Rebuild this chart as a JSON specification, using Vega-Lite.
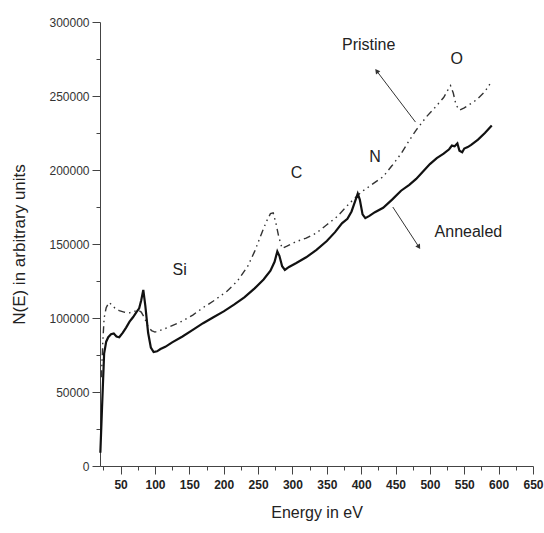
{
  "$schema": "https://vega.github.io/schema/vega-lite/v6.json",
  "autosize": "none",
  "width": 433,
  "height": 444,
  "padding": {"left": 100, "top": 22, "right": 11, "bottom": 67},
  "background": "white",
  "config": {"view": {"stroke": null}, "font": "Liberation Sans"},
  "datasets": {
    "annealed": [
      {"e": 20.5, "n": 9000}, {"e": 23, "n": 40000}, {"e": 26, "n": 76000}, {"e": 29, "n": 84000},
      {"e": 32, "n": 87000}, {"e": 36, "n": 89000}, {"e": 40, "n": 89500}, {"e": 44, "n": 87500},
      {"e": 48, "n": 87000}, {"e": 53, "n": 90000}, {"e": 58, "n": 93500}, {"e": 63, "n": 97500},
      {"e": 68, "n": 100500}, {"e": 73, "n": 104000}, {"e": 77, "n": 106500}, {"e": 80, "n": 112000},
      {"e": 83, "n": 119000}, {"e": 86, "n": 108000}, {"e": 90, "n": 90000}, {"e": 94, "n": 80000},
      {"e": 98, "n": 77000}, {"e": 103, "n": 77500}, {"e": 108, "n": 79000}, {"e": 115, "n": 80500},
      {"e": 125, "n": 83500}, {"e": 140, "n": 87500}, {"e": 155, "n": 92000}, {"e": 170, "n": 96500},
      {"e": 185, "n": 100500}, {"e": 200, "n": 104500}, {"e": 215, "n": 109000}, {"e": 230, "n": 114000},
      {"e": 245, "n": 120000}, {"e": 258, "n": 126000}, {"e": 268, "n": 132000}, {"e": 274, "n": 138000},
      {"e": 278, "n": 145000}, {"e": 281, "n": 142000}, {"e": 285, "n": 135000}, {"e": 289, "n": 132500},
      {"e": 295, "n": 134500}, {"e": 305, "n": 137000}, {"e": 320, "n": 141000}, {"e": 335, "n": 146000},
      {"e": 350, "n": 152000}, {"e": 362, "n": 158000}, {"e": 372, "n": 164000}, {"e": 380, "n": 167000},
      {"e": 386, "n": 172000}, {"e": 392, "n": 180000}, {"e": 395, "n": 184000}, {"e": 398, "n": 180000},
      {"e": 402, "n": 170000}, {"e": 406, "n": 167500}, {"e": 412, "n": 169000}, {"e": 420, "n": 171500},
      {"e": 432, "n": 174500}, {"e": 445, "n": 180000}, {"e": 458, "n": 186000}, {"e": 470, "n": 190000},
      {"e": 480, "n": 194000}, {"e": 490, "n": 199000}, {"e": 500, "n": 204000}, {"e": 510, "n": 208000},
      {"e": 520, "n": 211000}, {"e": 528, "n": 214000}, {"e": 532, "n": 216500}, {"e": 536, "n": 216000},
      {"e": 540, "n": 218000}, {"e": 543, "n": 213000}, {"e": 547, "n": 212000}, {"e": 550, "n": 214500},
      {"e": 555, "n": 215500}, {"e": 560, "n": 217000}, {"e": 570, "n": 220500}, {"e": 580, "n": 225000},
      {"e": 590, "n": 230000}
    ],
    "pristine": [
      {"e": 22, "n": 60000}, {"e": 24, "n": 83000}, {"e": 26, "n": 100000}, {"e": 29, "n": 107000},
      {"e": 33, "n": 110500}, {"e": 37, "n": 109000}, {"e": 42, "n": 106500}, {"e": 48, "n": 105000},
      {"e": 55, "n": 104000}, {"e": 63, "n": 103500}, {"e": 70, "n": 104500}, {"e": 75, "n": 105500},
      {"e": 80, "n": 104000}, {"e": 85, "n": 100000}, {"e": 90, "n": 94000}, {"e": 95, "n": 91500},
      {"e": 100, "n": 90500}, {"e": 110, "n": 92000}, {"e": 121, "n": 94000}, {"e": 140, "n": 98000},
      {"e": 155, "n": 102000}, {"e": 170, "n": 107000}, {"e": 185, "n": 111500}, {"e": 204, "n": 117800},
      {"e": 220, "n": 125000}, {"e": 235, "n": 135000}, {"e": 245, "n": 145000}, {"e": 255, "n": 157000},
      {"e": 262, "n": 165000}, {"e": 268, "n": 170500}, {"e": 272, "n": 171000}, {"e": 276, "n": 164000},
      {"e": 280, "n": 155000}, {"e": 285, "n": 147000}, {"e": 292, "n": 148500}, {"e": 305, "n": 151500},
      {"e": 320, "n": 154000}, {"e": 335, "n": 157500}, {"e": 350, "n": 163000}, {"e": 365, "n": 168500},
      {"e": 383, "n": 177500}, {"e": 400, "n": 185000}, {"e": 415, "n": 190000}, {"e": 432, "n": 195500},
      {"e": 445, "n": 203000}, {"e": 458, "n": 211000}, {"e": 470, "n": 220000}, {"e": 480, "n": 227000},
      {"e": 495, "n": 236000}, {"e": 509, "n": 243000}, {"e": 520, "n": 249000}, {"e": 526, "n": 254000},
      {"e": 530, "n": 257000}, {"e": 534, "n": 252000}, {"e": 538, "n": 244000}, {"e": 543, "n": 240500},
      {"e": 550, "n": 242000}, {"e": 560, "n": 245000}, {"e": 568, "n": 247500}, {"e": 580, "n": 253000},
      {"e": 590, "n": 260000}
    ],
    "labels": [
      {"t": "Si", "e": 136, "n": 132400},
      {"t": "C", "e": 306, "n": 198000},
      {"t": "N", "e": 420, "n": 208800},
      {"t": "O", "e": 539, "n": 275000},
      {"t": "Pristine", "e": 411, "n": 284500},
      {"t": "Annealed", "e": 556, "n": 158100}
    ],
    "arrowP": [{"e": 479, "n": 232400, "e2": 422.6, "n2": 266900}],
    "arrowA": [{"e": 446, "n": 175000, "e2": 484, "n2": 148000}]
  },
  "encoding": {
    "x": {
      "field": "e", "type": "quantitative",
      "scale": {"domain": [20, 650], "nice": false, "zero": false},
      "axis": {
        "title": "Energy in eV",
        "values": [25, 50, 75, 100, 125, 150, 175, 200, 225, 250, 275, 300, 325, 350, 375, 400, 425, 450, 475, 500, 525, 550, 575, 600, 625, 650],
        "labelExpr": "datum.value % 50 == 0 ? datum.label : ''",
        "tickSize": {"condition": {"test": "datum.value % 50 != 0", "value": 4}, "value": 8},
        "grid": false,
        "domainColor": "#444", "tickColor": "#444",
        "labelFont": "Liberation Sans", "labelFontSize": 12, "labelFontWeight": "bold", "labelColor": "#222",
        "labelPadding": 5, "labelFlush": false, "labelOverlap": false,
        "titleFont": "Liberation Sans", "titleFontSize": 16, "titleFontWeight": "normal", "titleColor": "#222",
        "titlePadding": 14
      }
    },
    "y": {
      "field": "n", "type": "quantitative",
      "scale": {"domain": [0, 300000], "nice": false},
      "axis": {
        "title": "N(E) in arbitrary units",
        "values": [0, 25000, 50000, 75000, 100000, 125000, 150000, 175000, 200000, 225000, 250000, 275000, 300000],
        "format": "d",
        "labelExpr": "datum.value % 50000 == 0 ? datum.label : ''",
        "tickSize": {"condition": {"test": "datum.value % 50000 != 0", "value": 4}, "value": 8},
        "grid": false,
        "domainColor": "#444", "tickColor": "#444",
        "labelFont": "Liberation Sans", "labelFontSize": 12, "labelColor": "#333",
        "labelPadding": 3, "labelFlush": false, "labelOverlap": false,
        "titleFont": "Liberation Sans", "titleFontSize": 17, "titleFontWeight": "normal", "titleColor": "#222",
        "titlePadding": 20
      }
    }
  },
  "layer": [
    {
      "data": {"name": "pristine"},
      "mark": {"type": "line", "color": "#333", "strokeWidth": 1.4, "strokeDash": [7, 4, 1.5, 4, 1.5, 4]}
    },
    {
      "data": {"name": "annealed"},
      "mark": {"type": "line", "color": "#111", "strokeWidth": 2.2}
    },
    {
      "data": {"name": "labels"},
      "mark": {"type": "text", "font": "Liberation Sans", "fontSize": 16, "color": "#222"},
      "encoding": {"text": {"field": "t"}}
    },
    {
      "data": {"name": "arrowP"},
      "mark": {"type": "rule", "color": "#333", "strokeWidth": 1},
      "encoding": {"x2": {"field": "e2"}, "y2": {"field": "n2"}}
    },
    {
      "data": {"name": "arrowP"},
      "mark": {"type": "point", "shape": "triangle-up", "filled": true, "color": "#333", "size": 30, "angle": 322, "opacity": 1},
      "encoding": {"x": {"field": "e2", "type": "quantitative"}, "y": {"field": "n2", "type": "quantitative"}}
    },
    {
      "data": {"name": "arrowA"},
      "mark": {"type": "rule", "color": "#333", "strokeWidth": 1},
      "encoding": {"x2": {"field": "e2"}, "y2": {"field": "n2"}}
    },
    {
      "data": {"name": "arrowA"},
      "mark": {"type": "point", "shape": "triangle-up", "filled": true, "color": "#333", "size": 30, "angle": 147, "opacity": 1},
      "encoding": {"x": {"field": "e2", "type": "quantitative"}, "y": {"field": "n2", "type": "quantitative"}}
    }
  ]
}
